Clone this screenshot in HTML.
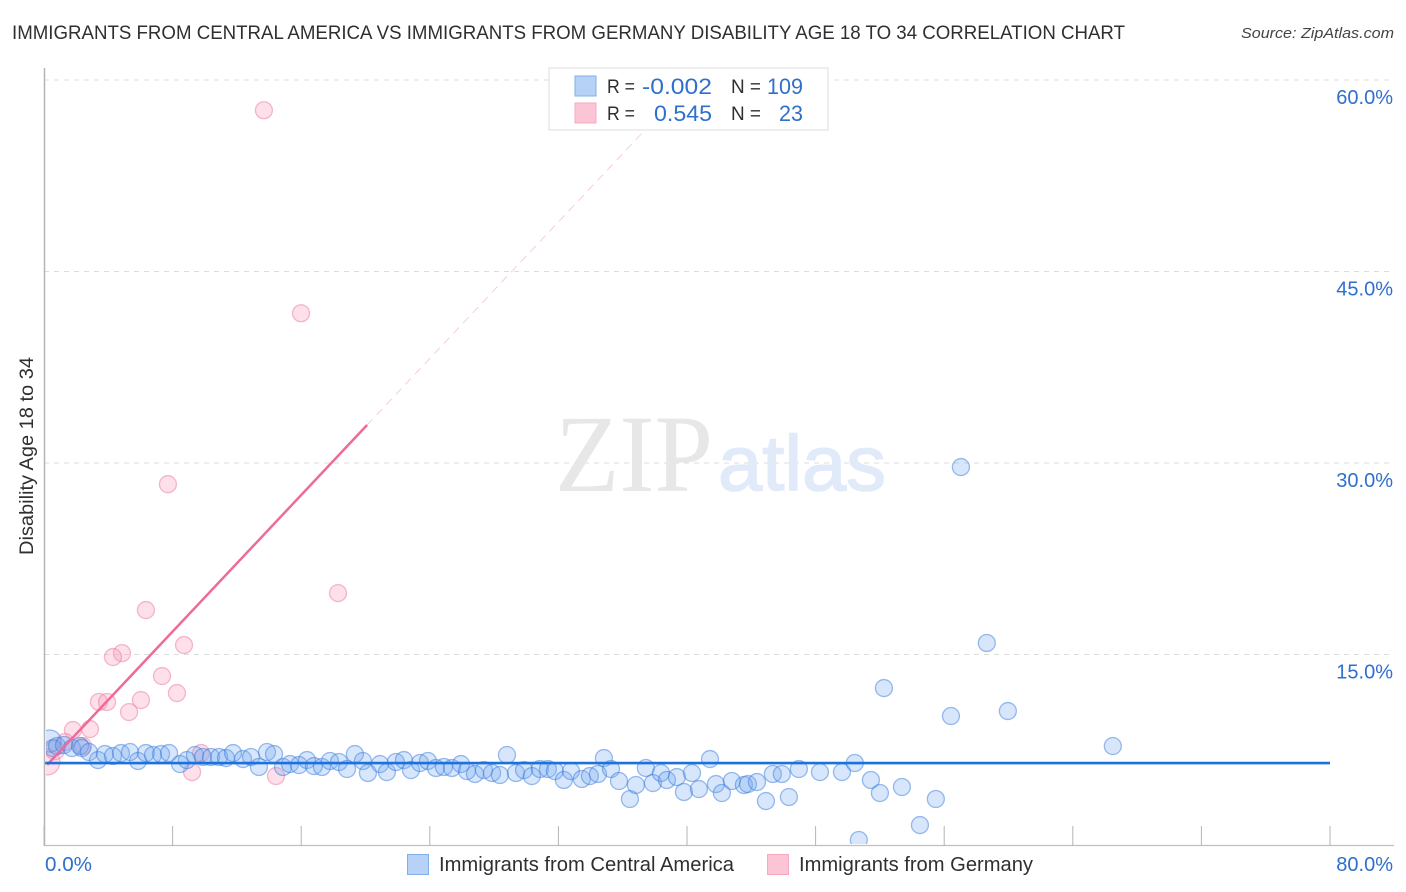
<!DOCTYPE html>
<html lang="en">
<head>
<meta charset="utf-8">
<title>Immigrants from Central America vs Immigrants from Germany Disability Age 18 to 34 Correlation Chart</title>
<style>
html,body{margin:0;padding:0;background:#fff;width:1406px;height:892px;overflow:hidden}
svg{display:block;font-family:"Liberation Sans",sans-serif}
</style>
</head>
<body>
<svg id="chart" width="1406" height="892" viewBox="0 0 1406 892" xmlns="http://www.w3.org/2000/svg">
  <defs><clipPath id="plot-clip"><rect x="46" y="68" width="1360" height="776"/></clipPath></defs>
  <text x="12" y="39" font-size="19" fill="#2f2f33" textLength="1113" lengthAdjust="spacingAndGlyphs">IMMIGRANTS FROM CENTRAL AMERICA VS IMMIGRANTS FROM GERMANY DISABILITY AGE 18 TO 34 CORRELATION CHART</text>
  <text x="1394" y="38" font-size="15" font-style="italic" fill="#444" text-anchor="end" textLength="153" lengthAdjust="spacingAndGlyphs">Source: ZipAtlas.com</text>
  <g id="grid"></g>
  <g>
    <text x="555" y="491" font-family="'Liberation Serif',serif" font-size="110" fill="#e7e7e7" textLength="158" lengthAdjust="spacingAndGlyphs">ZIP</text>
    <text x="718" y="490" font-size="78" fill="#e0eaf9" stroke="#e0eaf9" stroke-width="1.5" textLength="168" lengthAdjust="spacingAndGlyphs">atlas</text>
  </g>
  <g id="points" clip-path="url(#plot-clip)"></g>
  <g id="trends"></g>
  <g id="axes"></g>
  <text transform="translate(33,456) rotate(-90)" font-size="19" fill="#2f2f33" text-anchor="middle" textLength="198" lengthAdjust="spacingAndGlyphs">Disability Age 18 to 34</text>

  <g>
    <rect x="549" y="68" width="279" height="62" fill="#fff" fill-opacity="0.92" stroke="#ddd" stroke-width="1"/>
    <rect x="575" y="76" width="21" height="20" fill="#b6d3f7" stroke="#7fb0ea" stroke-width="1"/>
    <rect x="575" y="103" width="21" height="20" fill="#fcc5d6" stroke="#f5a9c2" stroke-width="1"/>
    <g font-size="19" fill="#2f2f33">
      <text x="607" y="93" textLength="28" lengthAdjust="spacingAndGlyphs">R =</text>
      <text x="607" y="120" textLength="28" lengthAdjust="spacingAndGlyphs">R =</text>
      <text x="731" y="93" textLength="30" lengthAdjust="spacingAndGlyphs">N =</text>
      <text x="731" y="120" textLength="30" lengthAdjust="spacingAndGlyphs">N =</text>
    </g>
    <g font-size="22" fill="#2f6fce">
      <text x="642" y="94" textLength="70" lengthAdjust="spacingAndGlyphs">-0.002</text>
      <text x="654" y="121" textLength="58" lengthAdjust="spacingAndGlyphs">0.545</text>
      <text x="767" y="94" textLength="36" lengthAdjust="spacingAndGlyphs">109</text>
      <text x="779" y="121" textLength="24" lengthAdjust="spacingAndGlyphs">23</text>
    </g>
  </g>

  <g>
    <rect x="407.5" y="854.5" width="21" height="20" fill="#b6d3f7" stroke="#7fb0ea" stroke-width="1"/>
    <text x="439" y="871" font-size="20" fill="#2f2f33" textLength="295" lengthAdjust="spacingAndGlyphs">Immigrants from Central America</text>
    <rect x="767.5" y="854.5" width="21" height="20" fill="#fcc5d6" stroke="#f5a9c2" stroke-width="1"/>
    <text x="799" y="871" font-size="20" fill="#2f2f33" textLength="234" lengthAdjust="spacingAndGlyphs">Immigrants from Germany</text>
  </g>
</svg>
<script>
const xTickValues = [0, 8, 16, 24, 32, 40, 48, 56, 64, 72, 80];
const yTickValues = [15, 30, 45, 60];
const yTickLabels = ['15.0%', '30.0%', '45.0%', '60.0%'];
const xEndLabels = ['0.0%', '80.0%'];

const centralAmericaX = [0.37,0.56,0.81,1.24,1.74,2.24,2.36,2.80,3.36,3.79,4.29,4.79,5.35,5.85,6.34,6.78,7.28,7.78,8.46,8.89,9.39,9.89,10.39,10.89,11.32,11.76,12.38,12.88,13.37,13.87,14.31,14.87,15.30,15.86,16.36,16.79,17.29,17.79,18.35,18.85,19.34,19.84,20.15,20.90,21.33,21.89,22.39,22.83,23.39,23.88,24.38,24.88,25.38,25.94,26.31,26.81,27.37,27.87,28.36,28.80,29.36,29.86,30.35,30.85,31.35,31.78,32.34,32.78,33.46,33.96,34.46,34.83,35.27,35.77,36.45,36.82,37.44,37.88,38.38,38.75,39.37,39.81,40.31,40.74,41.43,41.80,42.17,42.79,43.54,43.79,44.35,44.91,45.34,45.90,46.34,46.96,48.27,49.64,50.44,51.44,52.00,53.37,50.69,54.49,55.48,52.25,56.42,59.96,58.65,57.04,66.49];
const centralAmericaY = [8.22,7.67,7.83,7.91,7.67,7.83,7.67,7.36,6.73,7.20,7.05,7.28,7.36,6.66,7.28,7.13,7.20,7.28,6.42,6.73,7.13,6.97,6.97,6.97,6.89,7.28,6.81,6.97,6.19,7.36,7.20,6.19,6.42,6.34,6.73,6.26,6.19,6.66,6.58,6.03,7.20,6.66,5.72,6.42,5.79,6.58,6.73,5.95,6.50,6.66,6.11,6.19,6.11,6.42,5.87,5.64,5.95,5.72,5.56,7.13,5.72,5.95,5.48,6.03,6.03,5.87,5.17,5.87,5.25,5.48,5.64,6.89,6.03,5.09,3.68,4.78,6.11,4.93,5.72,5.17,5.40,4.23,5.72,4.46,6.81,4.85,4.15,5.09,4.78,4.85,5.01,3.52,5.64,5.64,3.84,6.03,5.79,5.79,6.50,5.17,4.15,4.62,0.47,1.64,3.68,12.37,10.18,10.57,15.90,29.68,7.83];

const germanyX = [13.68,15.99,7.71,18.29,6.34,4.85,4.29,8.71,7.34,8.27,6.03,3.42,3.92,5.29,1.80,2.86,1.31,2.43,9.77,9.21,14.43,0.19,0.68];
const germanyY = [57.63,41.73,28.34,19.81,18.48,15.11,14.80,15.74,13.31,11.98,11.43,11.28,11.28,10.49,9.08,9.16,8.14,7.83,7.28,5.79,5.48,6.58,7.52];
const germanyWeights = [1,1,1,1,1,1,1,1,1,1,1,1,1,1,1,1,1,1,1,1,1,2.3,1.3];
const centralAmericaWeights = [1.7];

const centralAmericaTrend = [6.5, 0];
const germanyTrend = [6.1, 1.337];
const germanySolidEnd = 20.1;
const germanyDashEnd = 41;

const SVG_NS = 'http://www.w3.org/2000/svg';
function xScale(v) { return 44 + v * (1286 / 80); }
function yScale(v) { return 846 - v * (766 / 60); }
function make(tag, parent, attrs) {
  const el = document.createElementNS(SVG_NS, tag);
  for (const k in attrs) el.setAttribute(k, attrs[k]);
  parent.appendChild(el);
  return el;
}
const gridG = document.getElementById('grid');
const pointsG = document.getElementById('points');
const trendsG = document.getElementById('trends');
const axesG = document.getElementById('axes');

yTickValues.forEach(function (v, i) {
  const line = make('line', gridG, {x1: 44, x2: 1394, y1: yScale(v), y2: yScale(v), stroke: '#dcdcdc', 'stroke-width': 1, 'stroke-dasharray': '5 5'});
  
  
  const label = make('text', axesG, {x: 1393, y: yScale(v) + 24, 'font-size': 20, fill: '#2f6fce', 'text-anchor': 'end'});
  label.textContent = yTickLabels[i];
  
  
});

germanyX.forEach(function (v, i) {
  const c = make('circle', pointsG, {cx: xScale(v), cy: yScale(germanyY[i]), r: 8.5 * Math.sqrt(germanyWeights[i] || 1), fill: 'rgba(250,160,190,0.32)', stroke: 'rgba(235,120,160,0.5)', 'stroke-width': 1.3});
  
  
});
centralAmericaX.forEach(function (v, i) {
  const c = make('circle', pointsG, {cx: xScale(v), cy: yScale(centralAmericaY[i]), r: 8.5 * Math.sqrt(centralAmericaWeights[i] || 1), fill: 'rgba(110,165,240,0.28)', stroke: 'rgba(50,120,220,0.48)', 'stroke-width': 1.3});
  
  
});

function trendY(t, x) { return yScale(t[0] + t[1] * x); }
const dash = make('line', trendsG, {x1: xScale(germanySolidEnd), y1: trendY(germanyTrend, germanySolidEnd), x2: xScale(germanyDashEnd), y2: trendY(germanyTrend, germanyDashEnd), stroke: '#f08fb2', 'stroke-width': 1, 'stroke-dasharray': '8 6', 'stroke-opacity': 0.45});


const solid = make('line', trendsG, {x1: xScale(0.2), y1: trendY(germanyTrend, 0.2), x2: xScale(germanySolidEnd), y2: trendY(germanyTrend, germanySolidEnd), stroke: '#ee6a9a', 'stroke-width': 2.5});


const blue = make('line', trendsG, {x1: xScale(0), y1: trendY(centralAmericaTrend, 0), x2: xScale(80), y2: trendY(centralAmericaTrend, 80), stroke: '#1b72dc', 'stroke-width': 2.6});



const yAxis = make('line', axesG, {x1: 44.5, x2: 44.5, y1: 68, y2: 846, stroke: '#b5b5b5', 'stroke-width': 1.5});


const xAxis = make('line', axesG, {x1: 44, x2: 1394, y1: 845.5, y2: 845.5, stroke: '#c0c0c0', 'stroke-width': 1.2});


xTickValues.forEach(function (v) {
  const tick = make('line', axesG, {x1: xScale(v), x2: xScale(v), y1: 826, y2: 846, stroke: '#b5b5b5', 'stroke-width': 1});
  
  
});
const x0 = make('text', axesG, {x: 45, y: 871, 'font-size': 20, fill: '#2f6fce', textLength: 47, lengthAdjust: 'spacingAndGlyphs'});
x0.textContent = xEndLabels[0];


const x1 = make('text', axesG, {x: 1393, y: 871, 'font-size': 20, fill: '#2f6fce', 'text-anchor': 'end'});
x1.textContent = xEndLabels[1];


</script>
</body>
</html>
